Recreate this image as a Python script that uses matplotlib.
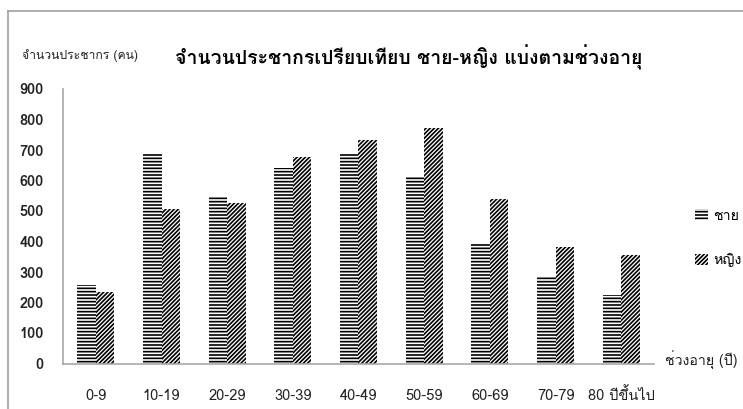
import numpy as np
import matplotlib
matplotlib.use("Agg")
import matplotlib.pyplot as plt
from matplotlib.lines import Line2D
from matplotlib.patches import Patch

# ข้อมูลประชากรแยกตามช่วงอายุ
age_groups = ["0-9", "10-19", "20-29", "30-39", "40-49", "50-59", "60-69", "70-79", "80 ปีขึ้นไป"]
male = [257, 687, 549, 640, 687, 611, 394, 287, 225]
female = [233, 505, 525, 676, 733, 771, 538, 383, 356]
y_ticks = [0, 100, 200, 300, 400, 500, 600, 700, 800, 900]

plt.rcParams['font.family'] = ['Loma', 'DejaVu Sans']
plt.rcParams['hatch.linewidth'] = 1.2

fig = plt.figure(figsize=(7.43, 4.09), dpi=100)
ax = fig.add_axes([63 / 743, 1 - 363.5 / 409, 591 / 743, 274.5 / 409])

x = np.arange(len(age_groups))
w = 0.28
ax.bar(x - w / 2, male, w, color='white', edgecolor='black', linewidth=0, hatch='-----', label='ชาย')
ax.bar(x + w / 2, female, w, color='white', edgecolor='black', linewidth=0, hatch='////////', label='หญิง')

ax.set_xlim(-0.5, len(age_groups) - 0.5)
ax.set_ylim(0, 900)
ax.set_yticks(y_ticks)
ax.set_yticklabels([str(v) for v in y_ticks], fontsize=10.5, fontweight='bold', color='#222222')
ax.set_xticks(x)
ax.set_xticklabels(age_groups, fontsize=10.5, color='#222222')
ax.tick_params(axis='y', length=0, pad=14)
ax.tick_params(axis='x', length=0, pad=26.5)
for lab in ax.get_xticklabels():
    lab.set_verticalalignment('baseline')
for s in ['top', 'right']:
    ax.spines[s].set_visible(False)
for s in ['left', 'bottom']:
    ax.spines[s].set_color('#a8a8a8')
    ax.spines[s].set_linewidth(1.2)

# ชื่อกราฟและชื่อแกน
fig.text(175 / 743, 1 - 57 / 409, 'จำนวนประชากรเปรียบเทียบ ชาย-หญิง แบ่งตามช่วงอายุ',
         fontsize=14, fontweight='bold', va='center', ha='left')
fig.text(22 / 743, 1 - 56 / 409, 'จำนวนประชากร (คน)', fontsize=8.8, va='center', ha='left', color='#222222')
fig.text(665 / 743, 1 - 360 / 409, 'ช่วงอายุ (ปี)', fontsize=10.2, va='center', ha='left', color='#222222')

handles = [Patch(facecolor='white', edgecolor='black', linewidth=0, hatch='-----'),
           Patch(facecolor='white', edgecolor='black', linewidth=0, hatch='////////')]
fig.legend(handles, ['ชาย', 'หญิง'], loc='center left', bbox_to_anchor=(682 / 743, 1 - 238 / 409),
           frameon=False, handlelength=0.9, handleheight=0.8, handletextpad=0.4,
           labelspacing=2.15, fontsize=10.2)

# กรอบรอบพื้นที่กราฟ
fig.add_artist(Line2D([8 / 743, 8 / 743], [-0.05, 1 - 11 / 409], color='#a0a0a0', lw=1.2))
fig.add_artist(Line2D([8 / 743, 1.05], [1 - 11 / 409, 1 - 11 / 409], color='#a0a0a0', lw=1.2))

fig.savefig('out.png', dpi=100)
